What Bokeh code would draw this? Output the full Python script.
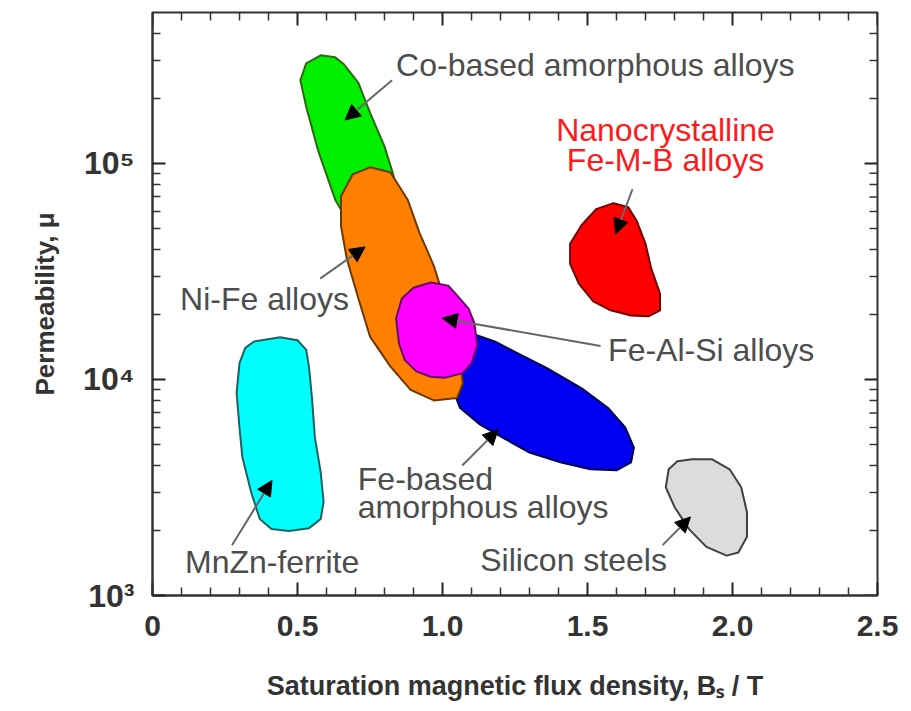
import math
from bokeh.plotting import figure
from bokeh.models import (Range1d, FixedTicker, ColumnDataSource, Arrow, NormalHead,
                          PrintfTickFormatter)
from bokeh.core.properties import value
from bokeh.embed import file_html
from bokeh.resources import INLINE

# ---------------- data (Bs in T, permeability mu) ----------------
co_bs = [0.58, 0.63, 0.66, 0.71, 0.75, 0.80, 0.83, 0.85, 0.82, 0.75, 0.68, 0.63, 0.57, 0.53, 0.51, 0.53]
co_mu = [3.17e5, 3.10e5, 2.88e5, 2.36e5, 1.72e5, 1.20e5, 8.9e4, 6.8e4, 5.2e4, 4.7e4, 5.2e4, 6.8e4,
         1.16e5, 1.83e5, 2.43e5, 2.91e5]

feamo_bs = [1.08, 1.18, 1.27, 1.36, 1.48, 1.57, 1.63, 1.66, 1.65, 1.60, 1.51, 1.41, 1.30, 1.22, 1.13,
            1.06, 1.04, 1.05]
feamo_mu = [1.67e4, 1.50e4, 1.30e4, 1.13e4, 9.1e3, 7.4e3, 6.0e3, 4.84e3, 4.13e3, 3.80e3, 3.84e3, 4.13e3,
            4.59e3, 5.27e3, 6.18e3, 7.4e3, 8.7e3, 1.26e4]

nife_bs = [0.75, 0.82, 0.88, 0.92, 0.97, 1.00, 1.03, 1.06, 1.07, 1.05, 0.97, 0.89, 0.82, 0.75, 0.71,
           0.67, 0.65, 0.65, 0.69]
nife_mu = [9.6e4, 9.1e4, 6.8e4, 4.8e4, 3.36e4, 2.5e4, 1.73e4, 1.26e4, 9.6e3, 8.2e3, 8.0e3, 8.95e3,
           1.15e4, 1.58e4, 2.37e4, 3.62e4, 5.13e4, 7.05e4, 8.9e4]

fealsi_bs = [0.96, 1.02, 1.05, 1.09, 1.11, 1.12, 1.10, 1.07, 1.01, 0.96, 0.91, 0.87, 0.85, 0.84, 0.86, 0.90]
fealsi_mu = [2.81e4, 2.72e4, 2.45e4, 2.13e4, 1.82e4, 1.44e4, 1.19e4, 1.07e4, 1.02e4, 1.03e4, 1.09e4,
             1.23e4, 1.47e4, 1.92e4, 2.37e4, 2.66e4]

mnzn_bs = [0.35, 0.44, 0.50, 0.53, 0.54, 0.55, 0.56, 0.58, 0.59, 0.58, 0.54, 0.47, 0.41, 0.37, 0.34,
           0.31, 0.30, 0.29, 0.30, 0.32]
mnzn_mu = [1.50e4, 1.57e4, 1.52e4, 1.37e4, 1.13e4, 8.2e3, 5.38e3, 3.72e3, 2.71e3, 2.26e3, 2.05e3,
           1.99e3, 2.03e3, 2.26e3, 3.01e3, 4.36e3, 5.98e3, 8.67e3, 1.19e4, 1.40e4]

nano_bs = [1.59, 1.64, 1.67, 1.70, 1.72, 1.75, 1.75, 1.71, 1.65, 1.58, 1.52, 1.47, 1.44, 1.44, 1.48, 1.53]
nano_mu = [6.55e4, 6.28e4, 5.41e4, 4.25e4, 3.26e4, 2.50e4, 2.09e4, 1.96e4, 1.98e4, 2.09e4, 2.30e4,
           2.78e4, 3.43e4, 4.25e4, 5.19e4, 6.15e4]

si_bs = [1.86, 1.93, 1.99, 2.03, 2.05, 2.05, 2.02, 1.98, 1.91, 1.85, 1.80, 1.77, 1.78, 1.81]
si_mu = [4.27e3, 4.27e3, 3.84e3, 3.17e3, 2.43e3, 1.87e3, 1.58e3, 1.53e3, 1.68e3, 2.03e3, 2.57e3,
         3.17e3, 3.84e3, 4.18e3]

region_names = ["Co-based amorphous", "Fe-based amorphous", "Ni-Fe", "Fe-Al-Si", "MnZn-ferrite",
                "Nanocrystalline", "Silicon steels"]
region_fill = ["#00f000", "#0000f0", "#ff8000", "#ff00ff", "#00ffff", "#ff0000", "#dcdcdc"]
region_line = ["#2a6a10", "#000050", "#6a3a00", "#6a006a", "#206060", "#700000", "#404040"]

label_text = ["Co-based amorphous alloys", "Ni-Fe alloys", "Fe-Al-Si alloys", "Fe-based",
              "amorphous alloys", "MnZn-ferrite", "Silicon steels"]
label_bs = [0.84, 0.095, 1.571, 0.708, 0.708, 0.112, 1.13]
label_mu = [2.85e5, 2.37e4, 1.37e4, 3.45e3, 2.57e3, 1.43e3, 1.46e3]

red_text = ["Nanocrystalline", "Fe-M-B alloys"]
red_bs = [1.769, 1.769]
red_mu = [1.43e5, 1.04e5]

arrow_bs_start = [0.826, 1.655, 0.578, 1.545, 1.068, 0.274, 1.759]
arrow_mu_start = [2.43e5, 7.6e4, 2.93e4, 1.43e4, 4.0e3, 1.71e3, 1.71e3]
arrow_bs_end = [0.664, 1.597, 0.733, 0.999, 1.192, 0.412, 1.855]
arrow_mu_end = [1.59e5, 4.72e4, 4.11e4, 1.92e4, 5.86e3, 3.41e3, 2.31e3]

x_ticks = [0.0, 0.5, 1.0, 1.5, 2.0, 2.5]
x_minor = [0.1, 0.2, 0.3, 0.4, 0.6, 0.7, 0.8, 0.9, 1.1, 1.2, 1.3, 1.4, 1.6, 1.7, 1.8, 1.9,
           2.1, 2.2, 2.3, 2.4]
y_ticks = [1e3, 1e4, 1e5]
y_tick_labels = ["10\u00b3", "10\u2074", "10\u2075"]
y_minor = [2e3, 3e3, 4e3, 5e3, 6e3, 7e3, 8e3, 9e3, 2e4, 3e4, 4e4, 5e4, 6e4, 7e4, 8e4, 9e4,
           2e5, 3e5, 4e5]
x_lo, x_hi = 0.0, 2.5
y_lo, y_hi = 1e3, 5e5

# ---------------- figure ----------------
FONT = "Liberation Sans"
p = figure(width=903, height=703, x_range=Range1d(x_lo, x_hi), y_range=Range1d(y_lo, y_hi),
           y_axis_type="log", output_backend="svg", toolbar_location=None,
           min_border_left=152, min_border_right=26, min_border_top=12, min_border_bottom=104)
p.xgrid.visible = False
p.ygrid.visible = False
p.outline_line_color = "#333333"
p.outline_line_width = 2
p.background_fill_color = "white"
p.border_fill_color = "white"

src = ColumnDataSource(dict(
    xs=[co_bs, feamo_bs, nife_bs, fealsi_bs, mnzn_bs, nano_bs, si_bs],
    ys=[co_mu, feamo_mu, nife_mu, fealsi_mu, mnzn_mu, nano_mu, si_mu],
    fill=region_fill, line=region_line, name=region_names))
p.patches("xs", "ys", source=src, fill_color="fill", line_color="line", line_width=2,
          line_join="round")

p.text(x=label_bs, y=label_mu, text=label_text, text_font=value(FONT), text_font_size="32px",
       text_color="#4d4d4d", text_align="left", text_baseline="middle")
p.text(x=red_bs, y=red_mu, text=red_text, text_font=value(FONT), text_font_size="32px",
       text_color="#ff1a1a", text_align="center", text_baseline="middle")

asrc = ColumnDataSource(dict(x0=arrow_bs_start, y0=arrow_mu_start, x1=arrow_bs_end, y1=arrow_mu_end))
p.add_layout(Arrow(end=NormalHead(size=15, fill_color="black", line_color="black", line_width=1),
                   x_start="x0", y_start="y0", x_end="x1", y_end="y1", source=asrc,
                   line_color="#666666", line_width=2))

# mirrored inward ticks on the top and right edges of the frame
p.ray(x=x_ticks, y=[y_hi] * len(x_ticks), length=13, length_units="screen", angle=-math.pi / 2,
      line_color="#222222", line_width=2)
p.ray(x=x_minor, y=[y_hi] * len(x_minor), length=8, length_units="screen", angle=-math.pi / 2,
      line_color="#333333", line_width=1.5)
p.ray(x=[x_hi] * len(y_ticks), y=y_ticks, length=13, length_units="screen", angle=math.pi,
      line_color="#222222", line_width=2)
p.ray(x=[x_hi] * len(y_minor), y=y_minor, length=8, length_units="screen", angle=math.pi,
      line_color="#333333", line_width=1.5)

# ---------------- axes ----------------
def style(ax):
    ax.axis_line_color = "#333333"
    ax.axis_line_width = 2
    ax.major_tick_in = 13
    ax.major_tick_out = 0
    ax.minor_tick_in = 8
    ax.minor_tick_out = 0
    ax.major_tick_line_color = "#222222"
    ax.major_tick_line_width = 2
    ax.minor_tick_line_color = "#333333"
    ax.minor_tick_line_width = 1.5
    ax.major_label_text_font = FONT
    ax.major_label_text_font_style = "bold"
    ax.major_label_text_color = "#333333"
    ax.axis_label_text_font = FONT
    ax.axis_label_text_font_style = "bold"
    ax.axis_label_text_color = "#333333"

xax = p.xaxis[0]
xax.ticker = FixedTicker(ticks=x_ticks, minor_ticks=x_minor)
xax.formatter = PrintfTickFormatter(format="%.1f")
xax.major_label_overrides = {0: "0"}
style(xax)
xax.major_label_text_font_size = "30px"
xax.major_label_standoff = 20
xax.axis_label = "Saturation magnetic flux density, B\u209b / T"
xax.axis_label_text_font_size = "27px"
xax.axis_label_standoff = 32

yax = p.yaxis[0]
yax.ticker = FixedTicker(ticks=y_ticks, minor_ticks=y_minor)
yax.major_label_overrides = {t: l for t, l in zip(y_ticks, y_tick_labels)}
style(yax)
yax.major_label_text_font_size = "32px"
yax.major_label_standoff = 18
yax.axis_label = "Permeability, \u03bc"
yax.axis_label_text_font_size = "26px"
yax.axis_label_standoff = 20

open("out.html", "w").write(file_html(p, INLINE))
